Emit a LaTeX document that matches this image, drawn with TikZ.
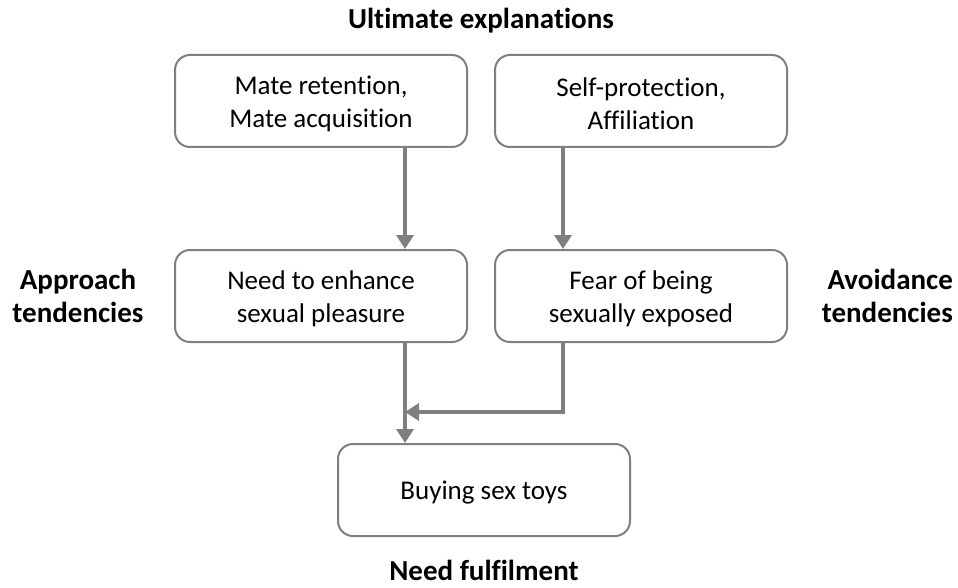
\documentclass[tikz,border=0pt]{standalone}
\usepackage{fontspec}
\setmainfont{Carlito}[Ligatures=NoCommon]
\usetikzlibrary{arrows.meta}
\definecolor{edgegray}{HTML}{7F7F7F}
\begin{document}
\begin{tikzpicture}[x=1pt,y=-1pt,
  box/.style={draw=edgegray, line width=2pt, rounded corners=15pt,
    minimum width=292pt, minimum height=92pt, inner sep=0pt},
  boxtext/.style={align=center, inner sep=0pt,
    font=\fontsize{27}{33}\selectfont},
  lbl/.style={font=\fontsize{29}{33}\selectfont\bfseries, inner sep=0pt},
  flow/.style={draw=edgegray, line width=4pt, -{Triangle[length=14pt,width=17pt]}}
]
\useasboundingbox (0,0) rectangle (958,588);

% frames
\node[box] (ret) at (321,101) {};
\node[box] (prot) at (641,101) {};
\node[box] (need) at (321,296) {};
\node[box] (fear) at (641,296) {};
\node[box] (buy) at (484,490) {};

% frame contents, set a little below centre
\node[boxtext] (retT) at ([yshift=-3pt]ret.center) {Mate retention,\\Mate acquisition};
\node[boxtext] (protT) at ([yshift=-3pt]prot.center) {Self-protection,\\Affiliation};
\node[boxtext] (needT) at ([yshift=-3pt]need.center) {Need to enhance\\sexual pleasure};
\node[boxtext] (fearT) at ([yshift=-3pt]fear.center) {Fear of being\\sexually exposed};
\node[boxtext] (buyT) at ([yshift=-3pt]buy.center) {Buying sex toys};

\node[lbl] (ult) at (481,21) {Ultimate explanations};
\node[lbl] (ful) at (484,570) {Need fulfilment};
\node[lbl, align=center] (app) at (78,296) {Approach\\tendencies};
\node[lbl, align=right, anchor=east] (avo) at (953,296) {Avoidance\\tendencies};

\coordinate (bend) at (563,412);
\coordinate (join) at (405,412);

\draw[flow] (ret.south -| join) -- (need.north -| join);
\draw[flow] (prot.south -| bend) -- (fear.north -| bend);
\draw[flow] (need.south -| join) -- (buy.north -| join);
\draw[flow, shorten >=-1pt]
  (fear.south -| bend) -- (bend) -- ([xshift=1pt]join);
\end{tikzpicture}
\end{document}
